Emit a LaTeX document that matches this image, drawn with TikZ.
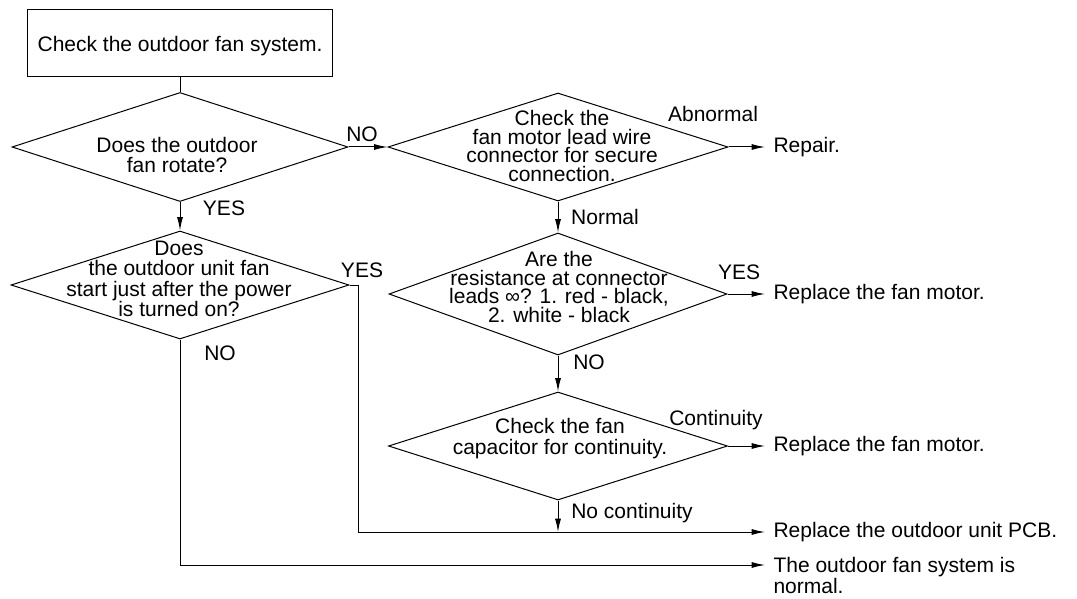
\documentclass[tikz,border=0pt]{standalone}
\usepackage{fontspec}
\setmainfont{Liberation Sans}
\usepackage{tikz}
\usetikzlibrary{shapes, arrows.meta, positioning, calc}
\lineskiplimit=-100pt

\begin{document}
\begin{tikzpicture}[
    x=0.75pt, y=-0.75pt,
    line width=0.75pt,
    font=\fontsize{15.75}{15}\selectfont,
    >={Latex[length=10pt,width=4.5pt]},
    startbox/.style={rectangle, draw, minimum width=228.75pt, minimum height=50.25pt, inner sep=0pt, text depth=0pt},
    decision/.style={diamond, draw, inner sep=0pt},
    question/.style={align=center, inner sep=0pt},
    answer/.style={inner sep=0pt},
    outcome/.style={anchor=west, align=left, inner xsep=6pt, inner ysep=0pt},
]
\useasboundingbox (0,0) rectangle (1077,599);

% Start
\node (start) [startbox] at (180,43.5) {Check the outdoor fan system.};

% Decisions
\node (rotate) [decision, minimum width=252pt, minimum height=81.75pt] at (180,147) {};
\node (lead) [decision, minimum width=255pt, minimum height=81pt] at (558,147) {};
\node (resist) [decision, minimum width=253.5pt, minimum height=91.5pt] at (558,294) {};
\node (power) [decision, minimum width=253.5pt, minimum height=81pt] at (180,285) {};
\node (cap) [decision, minimum width=254.25pt, minimum height=81pt] at (558,446) {};

% Questions
\node (rotatetext) [question] at (177,155) {Does the outdoor\\fan rotate?};
\node (leadtext) [question, font=\fontsize{15.75}{13.9}\selectfont] at (562,146) {Check the\\fan motor lead wire\\connector for secure\\connection.};
\node (resisttext) [question, font=\fontsize{15.75}{13.9}\selectfont] at (559,287) {Are the\\resistance at connector\\leads ∞? 1. red - black,\\2. white - black};
\node (powertext) [question, font=\fontsize{15.75}{15.2}\selectfont] at (179,279) {Does\\the outdoor unit fan\\start just after the power\\is turned on?};
\node (captext) [question, font=\fontsize{15.75}{15.75}\selectfont] at (560,439) {Check the fan\\capacitor for continuity.};

% Answers
\node (no1) [answer] at (362,134) {NO};
\node (yes1) [answer] at (224,208) {YES};
\node (abnormal) [answer] at (713,114) {Abnormal};
\node (normal) [answer] at (605,217) {Normal};
\node (yes3) [answer] at (739,272) {YES};
\node (yes4) [answer] at (362,270) {YES};
\node (no4) [answer] at (220,353) {NO};
\node (no3) [answer] at (589,362) {NO};
\node (contin) [answer] at (716,420) {Continuity};
\node (nocontin) [answer] at (632,513) {No continuity};

% Outcomes
\node (repair) [outcome] at (765,147) {Repair.};
\node (motor1) [outcome] at (765,294) {Replace the fan motor.};
\node (motor2) [outcome] at (765,446) {Replace the fan motor.};
\node (pcb) [outcome] at (765,532) {Replace the outdoor unit PCB.};
\coordinate (normalend) at (765,565);
\node (fine) [outcome, anchor=north west, font=\fontsize{15.75}{15.75}\selectfont] at (765,557) {The outdoor fan system is\\normal.};

% Arrows
\draw (start.south) -- (rotate.north);
\draw [->] (rotate.east) -- (lead.west);
\draw [->] (rotate.south) -- (power.north);
\draw [->] (lead.east) -- (repair.west);
\draw [->] (lead.south) -- (resist.north);
\draw [->] (resist.east) -- (motor1.west);
\draw [->] (resist.south) -- (cap.north);
\draw [->] (cap.east) -- (motor2.west);
\draw [->] (power.east) -- ++(9,0) |- (pcb.west);
\draw [->] (cap.south) -- (cap.south |- pcb.west);
\draw [->] (power.south) |- (normalend);

\end{tikzpicture}
\end{document}
